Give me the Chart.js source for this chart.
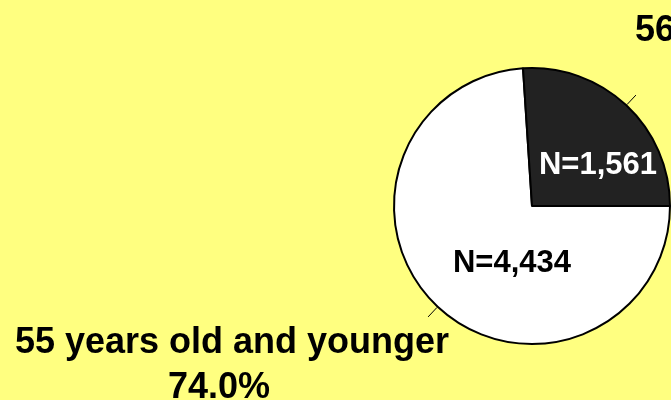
<!DOCTYPE html>
<html>
<head>
<meta charset="utf-8">
<script src="https://cdn.jsdelivr.net/npm/chart.js@4"></script>
<style>
  html, body { margin: 0; padding: 0; background: #FFFF80; overflow: hidden; }
  canvas { display: block; }
</style>
</head>
<body>
<canvas id="pie" width="671" height="400"></canvas>
<script>
// age groups, counts and the printed labels
const categories = ['55 years old and younger', '56 years old and older'];
const counts = [4434, 1561];
const countLabels = ['N=4,434', 'N=1,561'];
const percentLabels = ['74.0%', '26.0%'];
const sliceColors = ['#FFFFFF', '#222222'];
const countColors = ['#000000', '#FFFFFF'];

// where the N= text sits inside each slice, as fractions of the radius
const insideSpots = [[-0.145, 0.48], [0.478, -0.235]];

const labelFont = 'bold 36px "Liberation Sans", Arial, sans-serif';
const countFont = 'bold 31px "Liberation Sans", Arial, sans-serif';

// draws leader lines, outside labels and N= values
const pieLabels = {
  id: 'pieLabels',
  afterDatasetsDraw(chart) {
    const ctx = chart.ctx;
    const meta = chart.getDatasetMeta(0);
    ctx.save();
    meta.data.forEach((arc, i) => {
      const { x, y, startAngle, endAngle, outerRadius } =
        arc.getProps(['x', 'y', 'startAngle', 'endAngle', 'outerRadius'], true);
      const mid = (startAngle + endAngle) / 2;
      const cos = Math.cos(mid), sin = Math.sin(mid);

      // leader line
      const sx = x + cos * (outerRadius + 1), sy = y + sin * (outerRadius + 1);
      const ex = x + cos * (outerRadius + 14), ey = y + sin * (outerRadius + 14);
      ctx.strokeStyle = '#000';
      ctx.lineWidth = 1;
      ctx.beginPath();
      ctx.moveTo(sx, sy);
      ctx.lineTo(ex, ey);
      ctx.stroke();

      // outside label
      ctx.font = labelFont;
      ctx.fillStyle = '#000';
      ctx.textBaseline = 'alphabetic';
      const w1 = ctx.measureText(categories[i]).width;
      if (cos < 0) {
        ctx.textAlign = 'center';
        ctx.fillText(categories[i], ex + 21 - w1 / 2, ey + 36);
        ctx.fillText(percentLabels[i], ex - 209, ey + 81);
      } else {
        ctx.textAlign = 'left';
        ctx.fillText(categories[i], ex - 1, ey - 54);
        ctx.textAlign = 'center';
        ctx.fillText(percentLabels[i], ex - 1 + w1 / 2, ey - 10);
      }

      // N= value inside the slice
      ctx.font = countFont;
      ctx.fillStyle = countColors[i];
      ctx.textAlign = 'center';
      ctx.fillText(countLabels[i],
        x + insideSpots[i][0] * outerRadius,
        y + insideSpots[i][1] * outerRadius);
    });
    ctx.restore();
  }
};

new Chart(document.getElementById('pie'), {
  type: 'pie',
  data: {
    labels: categories,
    datasets: [{
      data: counts,
      backgroundColor: sliceColors,
      borderColor: '#000000',
      borderWidth: 2
    }]
  },
  options: {
    responsive: false,
    animation: false,
    rotation: 90,
    layout: { padding: { top: 67, bottom: 55, left: 393, right: 0 } },
    plugins: {
      legend: { display: false },
      tooltip: { enabled: false }
    }
  },
  plugins: [pieLabels]
});
</script>
</body>
</html>
